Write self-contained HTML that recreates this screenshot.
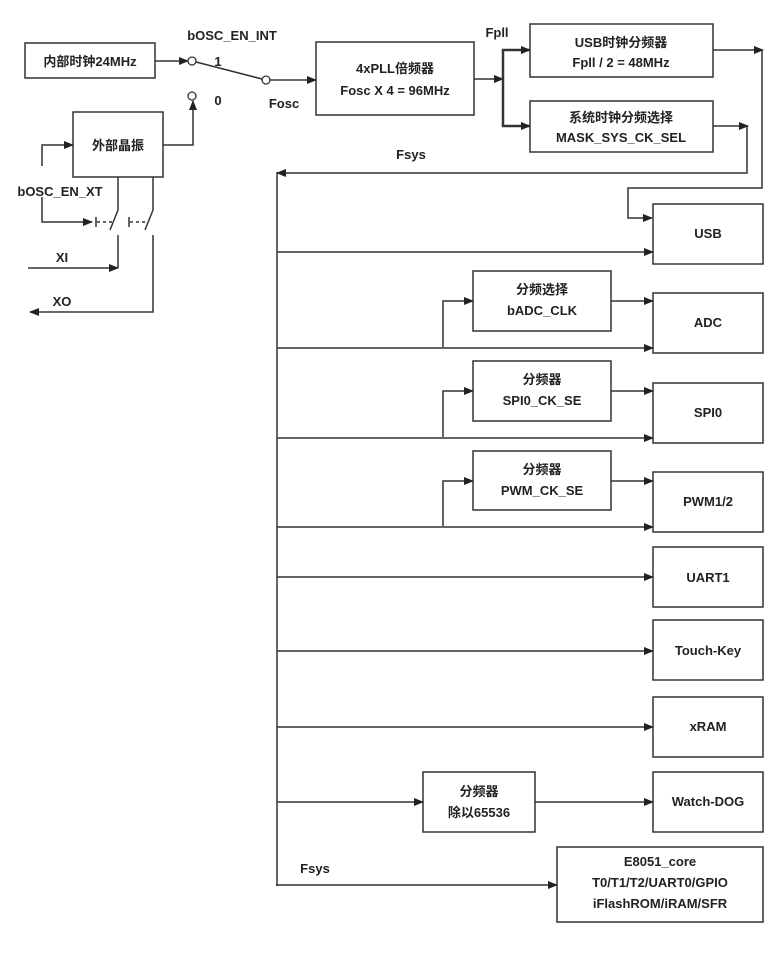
<!DOCTYPE html>
<html><head><meta charset="utf-8"><style>
html,body{margin:0;padding:0;background:#fff;}
svg{display:block;}
text{font-family:"Liberation Sans","Noto Sans CJK SC",sans-serif;font-size:13px;font-weight:bold;fill:#222;text-anchor:middle;}
.l{text-anchor:start;}
rect{fill:#fff;stroke:#333;stroke-width:1.5;}
line,polyline{stroke:#333;stroke-width:1.5;fill:none;}
</style></head><body>
<svg width="776" height="966" viewBox="0 0 776 966">
<defs><marker id="a" markerWidth="10" markerHeight="8" refX="9" refY="4" orient="auto" markerUnits="userSpaceOnUse"><path d="M0,0 L10,4 L0,8 z" fill="#222"/></marker></defs>

<!-- top-left -->
<rect x="25" y="43" width="130" height="35"/><text x="90" y="66">内部时钟24MHz</text>
<line x1="155" y1="61" x2="188" y2="61" marker-end="url(#a)"/>
<circle cx="192" cy="61" r="4" fill="#fff" stroke="#333" stroke-width="1.3"/>
<line x1="196" y1="62" x2="262" y2="79"/>
<circle cx="266" cy="80" r="4" fill="#fff" stroke="#333" stroke-width="1.3"/>
<line x1="270" y1="80" x2="316" y2="80" marker-end="url(#a)"/>
<text x="232" y="40">bOSC_EN_INT</text><text x="218" y="66">1</text>
<text x="284" y="108">Fosc</text>
<circle cx="192" cy="96" r="4" fill="#fff" stroke="#333" stroke-width="1.3"/>
<text x="218" y="105">0</text>

<rect x="73" y="112" width="90" height="65"/><text x="118" y="150">外部晶振</text>
<polyline points="163,145 193,145 193,101" marker-end="url(#a)"/>
<polyline points="42,166 42,145 73,145" marker-end="url(#a)"/>
<text x="60" y="196">bOSC_EN_XT</text>
<polyline points="42,197 42,222 92,222" marker-end="url(#a)"/>
<line x1="96" y1="217" x2="96" y2="227"/>
<line x1="97" y1="222" x2="112" y2="222" stroke-dasharray="3,3"/>
<line x1="129" y1="217" x2="129" y2="227"/>
<line x1="130" y1="222" x2="145" y2="222" stroke-dasharray="3,3"/>
<polyline points="118,177 118,210 110,230"/>
<polyline points="153,177 153,210 145,230"/>
<line x1="118" y1="235" x2="118" y2="268"/>
<line x1="28" y1="268" x2="118" y2="268" marker-end="url(#a)"/>
<text x="62" y="262">XI</text>
<polyline points="153,235 153,312 30,312" marker-end="url(#a)"/>
<text x="62" y="306">XO</text>

<!-- PLL -->
<rect x="316" y="42" width="158" height="73"/>
<text x="395" y="73">4xPLL倍频器</text><text x="395" y="95">Fosc X 4 = 96MHz</text>
<line x1="474" y1="79" x2="503" y2="79" marker-end="url(#a)"/>
<text x="497" y="37">Fpll</text>
<polyline points="530,50 503,50 503,126 530,126" style="stroke-width:2.5"/>
<line x1="515" y1="50" x2="530" y2="50" marker-end="url(#a)"/>
<line x1="515" y1="126" x2="530" y2="126" marker-end="url(#a)"/>
<rect x="530" y="24" width="183" height="53"/>
<text x="621" y="47">USB时钟分频器</text><text x="621" y="67">Fpll / 2 = 48MHz</text>
<rect x="530" y="101" width="183" height="51"/>
<text x="621" y="122">系统时钟分频选择</text><text x="621" y="142">MASK_SYS_CK_SEL</text>
<line x1="713" y1="50" x2="763" y2="50" marker-end="url(#a)"/>
<polyline points="762,50 762,188 628,188 628,218 652,218" marker-end="url(#a)"/>
<line x1="713" y1="126" x2="748" y2="126" marker-end="url(#a)"/>
<polyline points="747,126 747,173 277,173" marker-end="url(#a)"/>
<text x="411" y="159">Fsys</text>

<!-- bus -->
<line x1="277" y1="172" x2="277" y2="886"/>

<rect x="653" y="204" width="110" height="60"/><text x="708" y="238">USB</text>
<line x1="277" y1="252" x2="653" y2="252" marker-end="url(#a)"/>

<rect x="473" y="271" width="138" height="60"/><text x="542" y="294">分频选择</text><text x="542" y="315">bADC_CLK</text>
<rect x="653" y="293" width="110" height="60"/><text x="708" y="327">ADC</text>
<line x1="277" y1="348" x2="653" y2="348" marker-end="url(#a)"/>
<polyline points="443,347 443,301 473,301" marker-end="url(#a)"/>
<line x1="611" y1="301" x2="653" y2="301" marker-end="url(#a)"/>

<rect x="473" y="361" width="138" height="60"/><text x="542" y="384">分频器</text><text x="542" y="405">SPI0_CK_SE</text>
<rect x="653" y="383" width="110" height="60"/><text x="708" y="417">SPI0</text>
<line x1="277" y1="438" x2="653" y2="438" marker-end="url(#a)"/>
<polyline points="443,437 443,391 473,391" marker-end="url(#a)"/>
<line x1="611" y1="391" x2="653" y2="391" marker-end="url(#a)"/>

<rect x="473" y="451" width="138" height="59"/><text x="542" y="474">分频器</text><text x="542" y="495">PWM_CK_SE</text>
<rect x="653" y="472" width="110" height="60"/><text x="708" y="506">PWM1/2</text>
<line x1="277" y1="527" x2="653" y2="527" marker-end="url(#a)"/>
<polyline points="443,526 443,481 473,481" marker-end="url(#a)"/>
<line x1="611" y1="481" x2="653" y2="481" marker-end="url(#a)"/>

<rect x="653" y="547" width="110" height="60"/><text x="708" y="582">UART1</text>
<line x1="277" y1="577" x2="653" y2="577" marker-end="url(#a)"/>
<rect x="653" y="620" width="110" height="60"/><text x="708" y="655">Touch-Key</text>
<line x1="277" y1="651" x2="653" y2="651" marker-end="url(#a)"/>
<rect x="653" y="697" width="110" height="60"/><text x="708" y="731">xRAM</text>
<line x1="277" y1="727" x2="653" y2="727" marker-end="url(#a)"/>

<rect x="423" y="772" width="112" height="60"/><text x="479" y="796">分频器</text><text x="479" y="817">除以65536</text>
<line x1="277" y1="802" x2="423" y2="802" marker-end="url(#a)"/>
<rect x="653" y="772" width="110" height="60"/><text x="708" y="806">Watch-DOG</text>
<line x1="535" y1="802" x2="653" y2="802" marker-end="url(#a)"/>

<rect x="557" y="847" width="206" height="75"/>
<text x="660" y="866">E8051_core</text><text x="660" y="887">T0/T1/T2/UART0/GPIO</text><text x="660" y="908">iFlashROM/iRAM/SFR</text>
<line x1="276" y1="885" x2="557" y2="885" marker-end="url(#a)"/>
<text x="315" y="873">Fsys</text>
</svg>
</body></html>
